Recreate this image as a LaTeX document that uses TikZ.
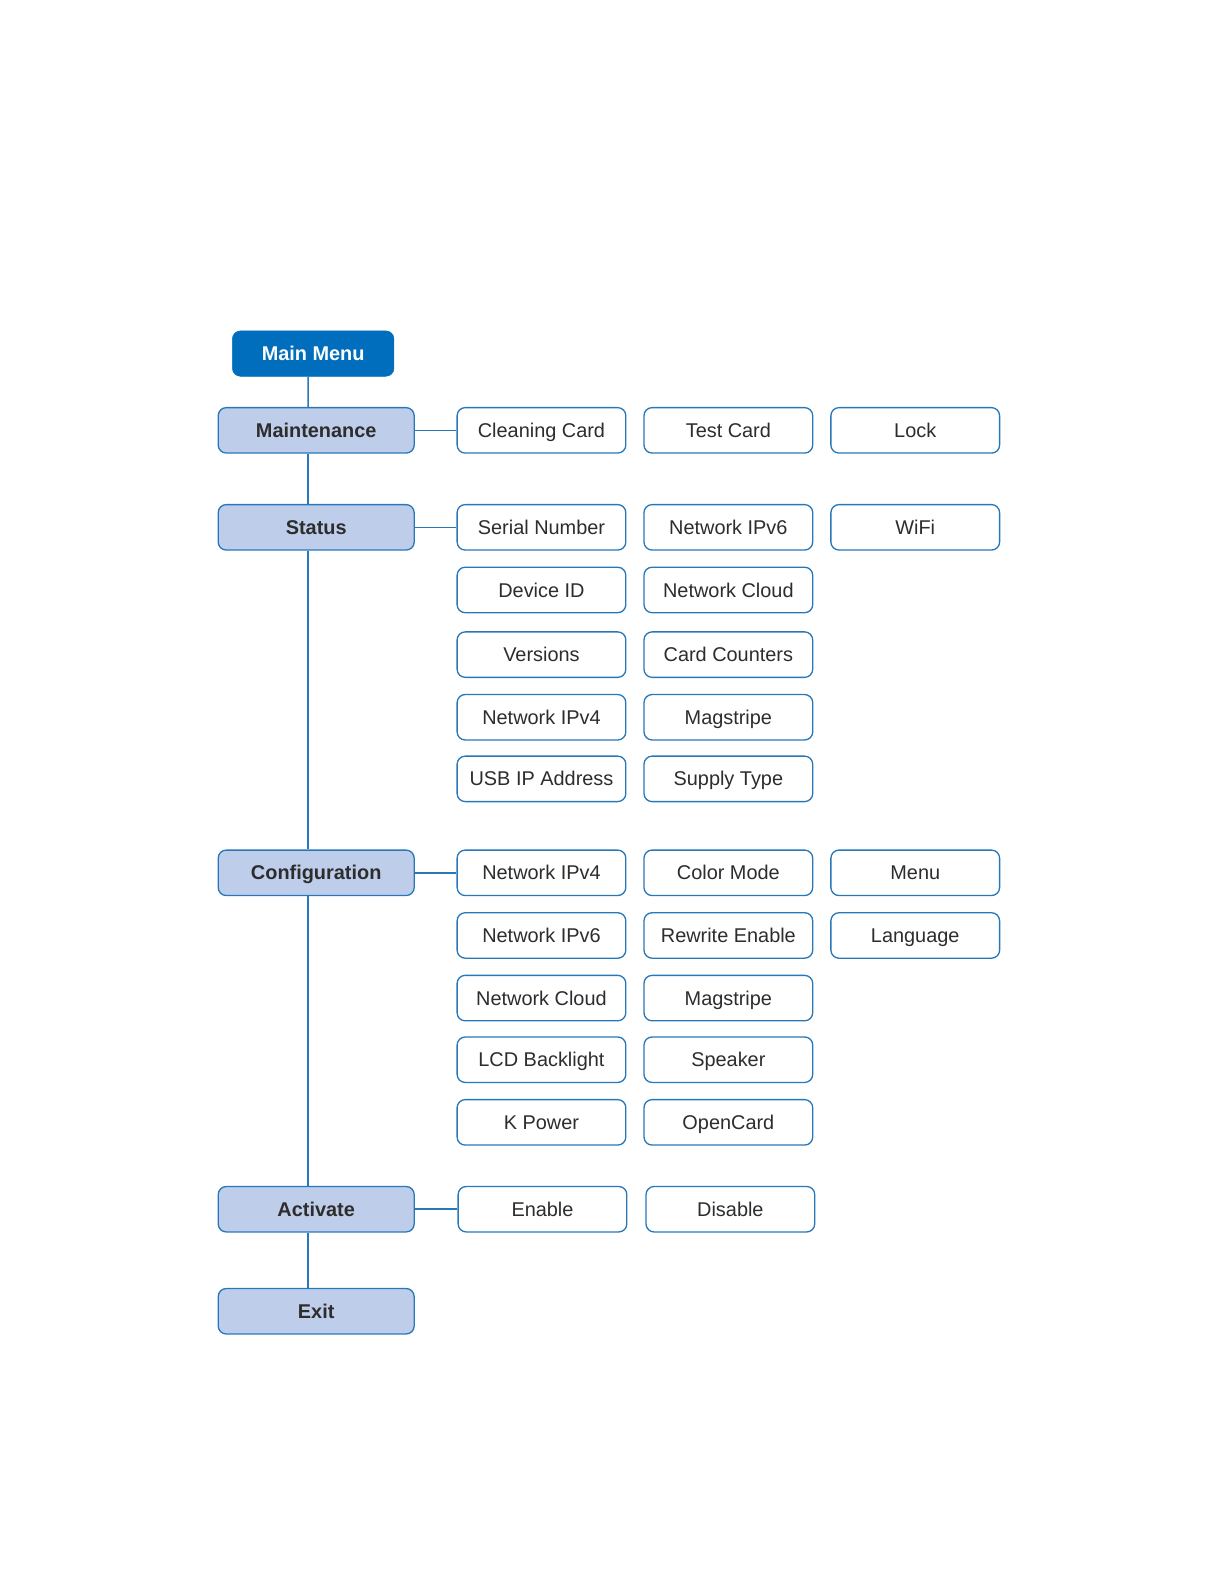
\documentclass[tikz,border=0pt]{standalone}
\usepackage{fontspec}
\setmainfont{Liberation Sans}
\usetikzlibrary{positioning}
\definecolor{menublue}{RGB}{0,110,188}
\definecolor{lineblue}{RGB}{40,120,185}
\definecolor{lightblue}{RGB}{190,206,234}
\definecolor{textgray}{RGB}{45,45,45}
\tikzset{
  menuMain/.style={ draw=menublue, fill=menublue, rounded corners=8bp, minimum width=160bp, minimum height=45bp, inner sep=0pt, text height=16bp, text depth=2bp, text=white, font=\fontsize{19.7bp}{22bp}\selectfont\bfseries }
}
\tikzset{
  menuTop/.style={ draw=lineblue, line width=1.3bp, fill=lightblue, rounded corners=8bp, minimum width=194bp, minimum height=45bp, inner sep=0pt, text height=16bp, text depth=2bp, text=textgray, font=\fontsize{19.7bp}{22bp}\selectfont\bfseries }
}
\tikzset{
  menuItem/.style={ draw=lineblue, line width=1.3bp, fill=white, rounded corners=8bp, minimum width=167bp, minimum height=45bp, inner sep=0pt, text height=16bp, text depth=2bp, text=textgray, font=\fontsize{19.7bp}{22bp}\selectfont }
}
\tikzset{
  link/.style={ draw=lineblue, line width=1.5bp }
}

\begin{document}
\begin{tikzpicture}[x=1bp, y=-1bp]
      \useasboundingbox (0, 0) rectangle (1212, 1568);

      \node[menuMain] (main) at (310, 350) {Main Menu};
      \node[menuTop] (maint) at (313, 426) {Maintenance};
      \node[menuTop] (status) at (313, 522) {Status};
      \node[menuTop] (config) at (313, 864) {Configuration};
      \node[menuTop] (activ) at (313, 1197) {Activate};
      \node[menuTop] (exit) at (313, 1298) {Exit};

      % spine
      \draw[link] ([xshift=-5bp]main.south) -- ([xshift=-8bp]maint.north);
      \draw[link] ([xshift=-8bp]maint.south) -- ([xshift=-8bp]status.north);
      \draw[link] ([xshift=-8bp]status.south) -- ([xshift=-8bp]config.north);
      \draw[link] ([xshift=-8bp]config.south) -- ([xshift=-8bp]activ.north);
      \draw[link] ([xshift=-8bp]activ.south) -- ([xshift=-8bp]exit.north);

      % maintenance
      \node[menuItem] (clean) at (536, 426) {Cleaning Card};
      \node[menuItem] (test) at (721, 426) {Test Card};
      \node[menuItem] (lock) at (906, 426) {Lock};
      \draw[link] (maint) -- (clean);

      % status
      \node[menuItem] (serial) at (536, 522) {Serial Number};
      \node[menuItem] (sipv6) at (721, 522) {Network IPv6};
      \node[menuItem] (wifi) at (906, 522) {WiFi};
      \node[menuItem] (devid) at (536, 584) {Device ID};
      \node[menuItem] (scloud) at (721, 584) {Network Cloud};
      \node[menuItem] (vers) at (536, 648) {Versions};
      \node[menuItem] (count) at (721, 648) {Card Counters};
      \node[menuItem] (sipv4) at (536, 710) {Network IPv4};
      \node[menuItem] (smag) at (721, 710) {Magstripe};
      \node[menuItem] (usbip) at (536, 771) {USB IP Address};
      \node[menuItem] (supply) at (721, 771) {Supply Type};
      \draw[link] (status) -- (serial);

      % configuration
      \node[menuItem] (cipv4) at (536, 864) {Network IPv4};
      \node[menuItem] (color) at (721, 864) {Color Mode};
      \node[menuItem] (menu) at (906, 864) {Menu};
      \node[menuItem] (cipv6) at (536, 926) {Network IPv6};
      \node[menuItem] (rewr) at (721, 926) {Rewrite Enable};
      \node[menuItem] (lang) at (906, 926) {Language};
      \node[menuItem] (ccloud) at (536, 988) {Network Cloud};
      \node[menuItem] (cmag) at (721, 988) {Magstripe};
      \node[menuItem] (lcd) at (536, 1049) {LCD Backlight};
      \node[menuItem] (speak) at (721, 1049) {Speaker};
      \node[menuItem] (kpow) at (536, 1111) {K Power};
      \node[menuItem] (open) at (721, 1111) {OpenCard};
      \draw[link] (config) -- (cipv4);

      % activate
      \node[menuItem] (enab) at (537, 1197) {Enable};
      \node[menuItem] (disab) at (723, 1197) {Disable};
      \draw[link] (activ) -- (enab);
    \end{tikzpicture}
\end{document}
